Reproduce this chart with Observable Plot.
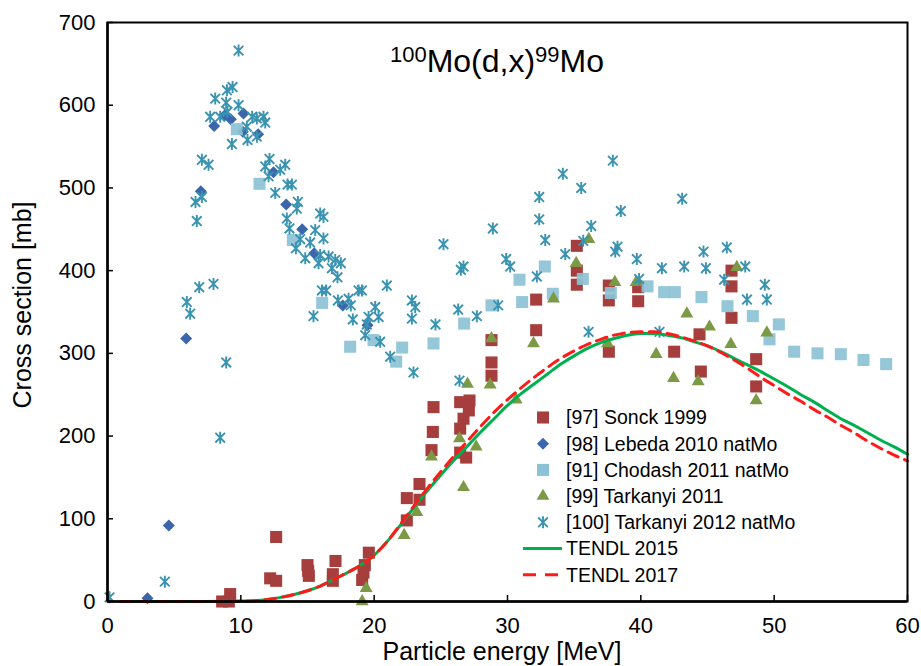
<!DOCTYPE html>
<html><head><meta charset="utf-8">
<script src="https://cdn.jsdelivr.net/npm/d3@7"></script>
<script src="https://cdn.jsdelivr.net/npm/@observablehq/plot@0.6"></script>
<style>body{margin:0;background:#fff}#chart{width:921px;height:666px}</style>
</head><body><div id="chart"></div>
<script>
// ---- data: [energy MeV, cross section mb] ----
const xTicks = [0, 10, 20, 30, 40, 50, 60];
const yTicks = [0, 100, 200, 300, 400, 500, 600, 700];

const sonck = [[8.6,0],[9.1,0],[9.2,9],[12.2,28],[12.65,25],[12.65,78],[15.0,44],[15.05,37],[15.1,31],[16.9,33],[16.9,25],[17.1,49],[19.1,26],[19.2,35],[19.3,44],[19.6,59],[22.45,98],[22.45,125],[23.4,123],[23.4,142],[24.3,183],[24.4,205],[24.45,235],[26.45,180],[26.45,209],[26.7,221],[26.9,174],[27.1,231],[26.45,241],[27.15,243],[28.8,273],[28.8,289],[28.8,316],[32.15,328],[32.15,365],[35.2,383],[35.2,400],[35.2,430],[37.6,302],[37.6,364],[37.6,382],[39.8,363],[39.8,380],[42.5,302],[44.4,323],[44.5,278],[46.8,343],[46.8,381],[46.8,400],[48.65,260],[48.65,293]];

const lebeda = [[3.0,4],[4.6,92],[5.9,318],[7.0,496],[8.0,575],[8.8,588],[9.25,583],[10.2,590],[10.15,568],[11.3,565],[12.45,519],[13.4,480],[14.6,450],[15.5,421],[17.65,358],[19.5,334]];

const chodash = [[9.7,571],[11.4,505],[13.9,437],[16.1,361],[18.2,308],[19.95,316],[21.65,290],[22.1,307],[24.45,312],[26.75,336],[28.8,358],[30.9,389],[31.1,362],[32.8,405],[33.4,372],[35.65,390],[37.75,373],[40.5,381],[41.75,374],[42.55,374],[44.55,368],[46.5,357],[48.4,345],[49.65,317],[50.35,335],[51.5,302],[53.25,300],[55.0,299],[56.7,292],[58.4,287]];

const tarkanyi2011 = [[19.1,0],[19.4,16],[22.25,80],[23.2,108],[24.3,175],[26.4,197],[26.7,138],[27.0,263],[27.65,187],[28.7,262],[28.8,318],[30.65,244],[31.95,312],[33.45,366],[35.15,409],[36.1,438],[37.5,312],[38.05,386],[39.65,386],[41.15,299],[42.45,270],[43.45,348],[44.3,266],[45.15,332],[46.75,311],[47.2,404],[48.65,243],[49.45,325]];

const tarkanyi2012 = [[0.15,5],[4.3,24],[5.95,362],[6.2,348],[6.6,483],[6.7,460],[6.88,380],[7.08,489],[7.08,534],[7.58,528],[7.7,586],[7.95,384],[8.08,608],[8.45,586],[8.45,198],[8.9,289],[8.9,603],[8.96,618],[9.0,592],[9.33,553],[9.38,622],[9.83,666],[9.83,600],[10.45,574],[10.5,558],[10.85,586],[11.2,584],[11.2,562],[11.7,586],[11.83,579],[11.83,526],[12.08,514],[12.15,535],[12.58,494],[12.95,522],[13.33,528],[13.45,463],[13.5,504],[13.65,451],[13.83,504],[14.13,427],[14.2,475],[14.28,483],[14.45,438],[14.83,415],[15.2,434],[15.45,345],[15.58,449],[15.83,409],[15.95,469],[15.95,419],[16.08,376],[16.2,465],[16.2,439],[16.4,376],[16.58,417],[16.83,403],[17.08,413],[17.25,392],[17.28,364],[17.5,409],[18.08,366],[18.25,358],[18.4,341],[18.83,376],[19.08,376],[19.33,322],[19.45,335],[19.58,344],[20.08,356],[20.33,344],[20.45,314],[20.95,382],[21.2,296],[22.83,342],[22.83,364],[22.95,277],[23.08,356],[24.6,335],[25.2,432],[26.3,353],[26.4,267],[26.5,401],[26.7,405],[27.7,345],[28.9,451],[29.3,358],[29.9,414],[30.2,405],[32.2,393],[32.38,462],[32.38,489],[32.83,437],[34.15,517],[34.33,420],[35.53,500],[35.68,436],[36.08,326],[36.28,454],[37.9,533],[38.08,423],[38.25,429],[38.5,472],[39.7,414],[39.87,390],[41.4,326],[41.58,403],[43.1,487],[43.25,405],[44.7,423],[44.88,403],[46.25,389],[46.45,428],[47.83,405],[47.96,365],[49.3,383],[49.45,365]];

const tendl2015 = [[1,0],[4,0],[7,0],[9,0.2],[10,0.5],[11,1],[12,2.5],[13,5],[14,8.5],[15,13],[16,19],[17,27],[18,35],[19,44],[20,56],[21,73],[22,93],[23,114],[24,134],[25,153],[26,171],[27,188],[28,205],[29,221],[30,237],[31,251],[32,263],[33,275],[34,287],[35,297],[36,306],[37,313],[38,318],[39,322],[40,324],[41,324],[42,322],[43,319],[44,314],[45,309],[46,302],[47,294],[48,286],[49,278],[50,269],[51,260],[52,250],[53,241],[54,231],[55,221],[56,213],[57,204],[58,195],[59,187],[60,178]];

const tendl2017 = [[1,0],[4,0],[7,0],[9,0.2],[10,0.5],[11,1],[12,2.5],[13,5],[14,8.5],[15,13],[16,19],[17,27],[18,35],[19,44],[20,56],[21,73],[22,94],[23,116],[24,137],[25,157],[26,176],[27,194],[28,212],[29,229],[30,244],[31,258],[32,271],[33,283],[34,294],[35,303],[36,311],[37,317],[38,322],[39,325],[40,326],[41,326],[42,324],[43,320],[44,315],[45,309],[46,301],[47,292],[48,282],[49,271],[50,261],[51,251],[52,242],[53,232],[54,223],[55,213],[56,204],[57,194],[58,185],[59,177],[60,170]];

const seriesNames = ["[97] Sonck 1999","[98] Lebeda 2010 natMo","[91] Chodash 2011 natMo","[99] Tarkanyi 2011","[100] Tarkanyi 2012 natMo","TENDL 2015","TENDL 2017"];

// ---- styles ----
const C = {sonck:"#a53e3c", lebeda:"#3b66ab", chodash:"#8cc2d6", t11:"#7c9a45", t12:"#3a93b0", te15:"#00b050", te17:"#ff1a1a"};
const asterisk = {draw(ctx, size){ const r = Math.sqrt(size/Math.PI), d = r*0.8;
  ctx.moveTo(0,-r); ctx.lineTo(0,r); ctx.moveTo(-d,-d); ctx.lineTo(d,d); ctx.moveTo(-d,d); ctx.lineTo(d,-d);} };
const R = {sq:6.8, dia:5.4, tri:4.8, ast:6.0};

const X = d => d[0], Y = d => d[1];
const FONT = "'Liberation Sans', Arial, sans-serif";

const svg = Plot.plot({
  width: 921, height: 666,
  marginLeft: 107, marginRight: 14, marginTop: 22, marginBottom: 65,
  style: {fontFamily: FONT, fontSize: "22px", color: "#000", background: "#fff"},
  x: {domain: [0, 60]},
  y: {domain: [0, 700]},
  marks: [
    Plot.dot(sonck, {x: X, y: Y, symbol: "square", r: R.sq, fill: C.sonck, stroke: "none"}),
    Plot.dot(lebeda, {x: X, y: Y, symbol: "diamond2", r: R.dia, fill: C.lebeda, stroke: "none"}),
    Plot.dot(chodash, {x: X, y: Y, symbol: "square", r: R.sq, fill: C.chodash, fillOpacity: 0.92, stroke: "none"}),
    Plot.dot(tarkanyi2011, {x: X, y: Y, symbol: "triangle", r: R.tri, fill: C.t11, stroke: "none"}),
    Plot.dot(tarkanyi2012, {x: X, y: Y, symbol: asterisk, r: R.ast, fill: "none", stroke: C.t12, strokeWidth: 1.9}),
    Plot.line(tendl2015, {x: X, y: Y, stroke: C.te15, strokeWidth: 3, curve: "monotone-x"}),
    Plot.line(tendl2017, {x: X, y: Y, stroke: C.te17, strokeWidth: 3, strokeDasharray: "11,7", curve: "monotone-x"}),
    Plot.frame({stroke: "#000", strokeWidth: 2}),
    Plot.ruleX([0], {stroke: "#000", strokeWidth: 2.5}),
    Plot.ruleY([0], {stroke: "#000", strokeWidth: 2.5}),
    Plot.axisX(xTicks, {anchor: "bottom", tickSize: 6, dy: -6, strokeWidth: 1.5, tickFormat: () => "", label: null}),
    Plot.axisX(xTicks, {anchor: "bottom", tickSize: 0, tickPadding: 16, label: null, fill: "#000"}),
    Plot.axisY(yTicks, {anchor: "left", tickSize: 6, dx: 6, strokeWidth: 1.5, tickFormat: () => "", label: null}),
    Plot.axisY(yTicks, {anchor: "left", tickSize: 0, tickPadding: 12, label: null, fill: "#000"})
  ]
});
document.getElementById("chart").appendChild(svg);

// ---- texts and legend ----
const s = d3.select(svg);
const t = s.append("text").attr("x", 497).attr("y", 72).attr("text-anchor", "middle")
  .attr("font-family", FONT).attr("font-size", 32).attr("fill", "#000");
t.append("tspan").attr("font-size", 22).attr("dy", -10).text("100");
t.append("tspan").attr("dy", 10).text("Mo(d,x)");
t.append("tspan").attr("font-size", 22).attr("dy", -10).text("99");
t.append("tspan").attr("dy", 10).text("Mo");

s.append("text").attr("x", 502).attr("y", 660).attr("text-anchor", "middle")
  .attr("font-family", FONT).attr("font-size", 25).attr("fill", "#000").text("Particle energy [MeV]");
s.append("text").attr("transform", "translate(31,305) rotate(-90)").attr("text-anchor", "middle")
  .attr("font-family", FONT).attr("font-size", 25).attr("fill", "#000").text("Cross section [mb]");

const lg = s.append("g").attr("font-family", FONT).attr("font-size", 19.5).attr("fill", "#000")
  .attr("text-anchor", "start");
const rowY = i => 417.5 + i * 26.2;
const mk = [
  {sym: d3.symbolSquare, r: R.sq, fill: C.sonck},
  {sym: d3.symbolDiamond2, r: R.dia, fill: C.lebeda},
  {sym: d3.symbolSquare, r: R.sq, fill: C.chodash},
  {sym: d3.symbolTriangle, r: R.tri, fill: C.t11},
  {sym: asterisk, r: R.ast, stroke: C.t12}
];
mk.forEach((m, i) => {
  lg.append("path").attr("transform", `translate(543,${rowY(i)})`)
    .attr("d", d3.symbol(m.sym, Math.PI * m.r * m.r)())
    .attr("fill", m.fill || "none").attr("stroke", m.stroke || "none").attr("stroke-width", 1.9);
});
lg.append("line").attr("x1", 523).attr("x2", 562).attr("y1", rowY(5)).attr("y2", rowY(5))
  .attr("stroke", C.te15).attr("stroke-width", 3);
lg.append("line").attr("x1", 523).attr("x2", 563).attr("y1", rowY(6)).attr("y2", rowY(6))
  .attr("stroke", C.te17).attr("stroke-width", 3).attr("stroke-dasharray", "13,9");
seriesNames.forEach((n, i) => {
  lg.append("text").attr("x", 566).attr("y", rowY(i)).attr("dy", "0.35em").attr("text-anchor", "start").text(n);
});
</script></body></html>
